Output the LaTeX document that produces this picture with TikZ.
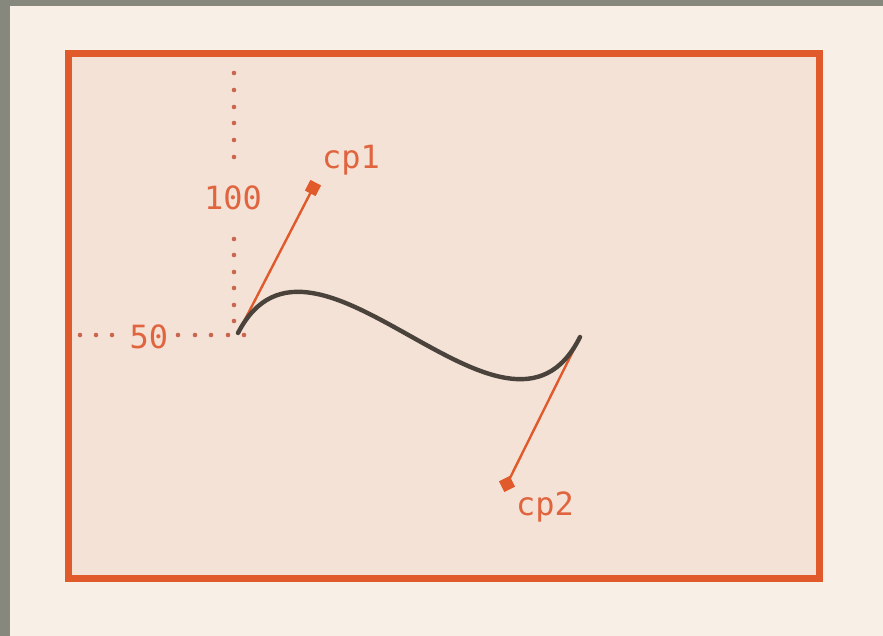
\documentclass[tikz,border=0pt]{standalone}
\usepackage{fontspec}
\newfontfamily\monofam{DejaVu Sans Mono}
\definecolor{grayedge}{HTML}{86877D}
\definecolor{cream}{HTML}{F8F0E6}
\definecolor{boxfill}{HTML}{F5E2D6}
\definecolor{accent}{HTML}{E05A2B}
\definecolor{labelc}{HTML}{E0653F}
\definecolor{dotc}{HTML}{C9664D}
\definecolor{curvec}{HTML}{4A433C}
\begin{document}
\begin{tikzpicture}[x=1pt,y=-1pt,
  lbl/.style={font=\monofam\fontsize{32}{32}\selectfont, text=labelc, inner sep=0pt},
  ctrlline/.style={draw=accent, line width=2.4pt},
  handle/.style={rectangle, fill=accent, minimum size=12pt, inner sep=0pt},
  dotmark/.style={fill=dotc}]
\useasboundingbox (0,0) rectangle (883,636);
\fill[grayedge] (0,0) rectangle (883,636);
\fill[cream] (10,6) rectangle (883,636);
\draw[accent, line width=7pt, fill=boxfill] (68,54) rectangle (819,578);
% coordinates
\coordinate (start) at (238,333);
\coordinate (end) at (580,337);
\coordinate (c1) at (313,188);
\coordinate (c2) at (507,484);
% dotted guides
\foreach \y in {73,90,107,123,140,157,239,255,272,288,305,321}
  \fill[dotmark] (234,\y) circle (2.3pt);
\foreach \x in {80,96,112,178,195,211,228,244}
  \fill[dotmark] (\x,335) circle (2.3pt);
\node[lbl] (l50) at (149,337) {50};
\node[lbl] (l100) at (233,198) {100};
% control lines
\draw[ctrlline] (start) -- (c1);
\draw[ctrlline] (end) -- (c2);
\node[handle, rotate=-27.4] (h1) at (c1) {};
\node[handle, rotate=26.4] (h2) at (c2) {};
\node[lbl] (lcp1) at (351,160) {cp1};
\node[lbl] (lcp2) at (545,507) {cp2};
% curve
\draw[curvec, line width=4.4pt, line cap=round] (start) .. controls (c1) and (c2) .. (end);
\end{tikzpicture}
\end{document}
